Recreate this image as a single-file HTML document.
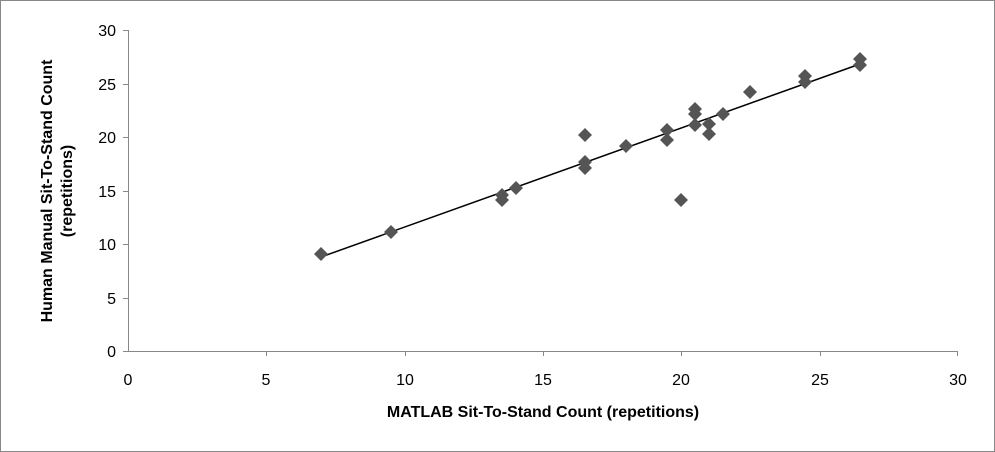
<!DOCTYPE html>
<html><head><style>
body{margin:0;background:#fff;}
svg{display:block;}
text{font-family:"Liberation Sans",sans-serif;fill:#000;}
</style></head><body>
<svg width="995" height="452" viewBox="0 0 995 452">
<rect x="0.5" y="0.5" width="994" height="451" fill="#fff" stroke="#888"/>
<g stroke="#888" stroke-width="1">
<line x1="128.5" y1="30" x2="128.5" y2="351"/>
<line x1="128" y1="351.5" x2="958" y2="351.5"/>
<line x1="123" y1="30.5" x2="128" y2="30.5"/>
<line x1="123" y1="84.5" x2="128" y2="84.5"/>
<line x1="123" y1="137.5" x2="128" y2="137.5"/>
<line x1="123" y1="191.5" x2="128" y2="191.5"/>
<line x1="123" y1="244.5" x2="128" y2="244.5"/>
<line x1="123" y1="298.5" x2="128" y2="298.5"/>
<line x1="123" y1="351.5" x2="128" y2="351.5"/>
<line x1="266.5" y1="351" x2="266.5" y2="356"/>
<line x1="405.5" y1="351" x2="405.5" y2="356"/>
<line x1="543.5" y1="351" x2="543.5" y2="356"/>
<line x1="681.5" y1="351" x2="681.5" y2="356"/>
<line x1="820.5" y1="351" x2="820.5" y2="356"/>
<line x1="957.5" y1="351" x2="957.5" y2="356"/>
</g>
<g font-size="16" text-anchor="end">
<text x="116" y="36">30</text><text x="116" y="90">25</text><text x="116" y="143">20</text>
<text x="116" y="197">15</text><text x="116" y="250">10</text><text x="116" y="304">5</text><text x="116" y="357">0</text>
</g>
<g font-size="16" text-anchor="middle">
<text x="128" y="385">0</text><text x="266" y="385">5</text><text x="405" y="385">10</text>
<text x="543" y="385">15</text><text x="681" y="385">20</text><text x="820" y="385">25</text><text x="958" y="385">30</text>
</g>
<text x="543" y="417" font-size="16" font-weight="bold" text-anchor="middle">MATLAB Sit-To-Stand Count (repetitions)</text>
<text transform="translate(52,191) rotate(-90)" font-size="16" font-weight="bold" text-anchor="middle">Human Manual Sit-To-Stand Count</text>
<text transform="translate(72,191) rotate(-90)" font-size="16" font-weight="bold" text-anchor="middle">(repetitions)</text>
<line x1="321" y1="257" x2="860" y2="64" stroke="#000" stroke-width="1.5"/>
<g fill="#555">
<path id="d" d="M0,-7 L7,0 L0,7 L-7,0Z" transform="translate(321,254)"/>
<path d="M0,-7 L7,0 L0,7 L-7,0Z" transform="translate(391,232)"/>
<path d="M0,-7 L7,0 L0,7 L-7,0Z" transform="translate(502,195)"/>
<path d="M0,-7 L7,0 L0,7 L-7,0Z" transform="translate(502,200)"/>
<path d="M0,-7 L7,0 L0,7 L-7,0Z" transform="translate(516,188)"/>
<path d="M0,-7 L7,0 L0,7 L-7,0Z" transform="translate(585,135)"/>
<path d="M0,-7 L7,0 L0,7 L-7,0Z" transform="translate(585,162)"/>
<path d="M0,-7 L7,0 L0,7 L-7,0Z" transform="translate(585,168)"/>
<path d="M0,-7 L7,0 L0,7 L-7,0Z" transform="translate(626,146)"/>
<path d="M0,-7 L7,0 L0,7 L-7,0Z" transform="translate(667,130)"/>
<path d="M0,-7 L7,0 L0,7 L-7,0Z" transform="translate(667,140)"/>
<path d="M0,-7 L7,0 L0,7 L-7,0Z" transform="translate(681,200)"/>
<path d="M0,-7 L7,0 L0,7 L-7,0Z" transform="translate(695,109)"/>
<path d="M0,-7 L7,0 L0,7 L-7,0Z" transform="translate(695,114)"/>
<path d="M0,-7 L7,0 L0,7 L-7,0Z" transform="translate(695,125)"/>
<path d="M0,-7 L7,0 L0,7 L-7,0Z" transform="translate(709,124)"/>
<path d="M0,-7 L7,0 L0,7 L-7,0Z" transform="translate(709,134)"/>
<path d="M0,-7 L7,0 L0,7 L-7,0Z" transform="translate(723,114)"/>
<path d="M0,-7 L7,0 L0,7 L-7,0Z" transform="translate(750,92)"/>
<path d="M0,-7 L7,0 L0,7 L-7,0Z" transform="translate(805,76)"/>
<path d="M0,-7 L7,0 L0,7 L-7,0Z" transform="translate(805,82)"/>
<path d="M0,-7 L7,0 L0,7 L-7,0Z" transform="translate(860,59)"/>
<path d="M0,-7 L7,0 L0,7 L-7,0Z" transform="translate(860,65)"/>
</g>
</svg>
</body></html>
